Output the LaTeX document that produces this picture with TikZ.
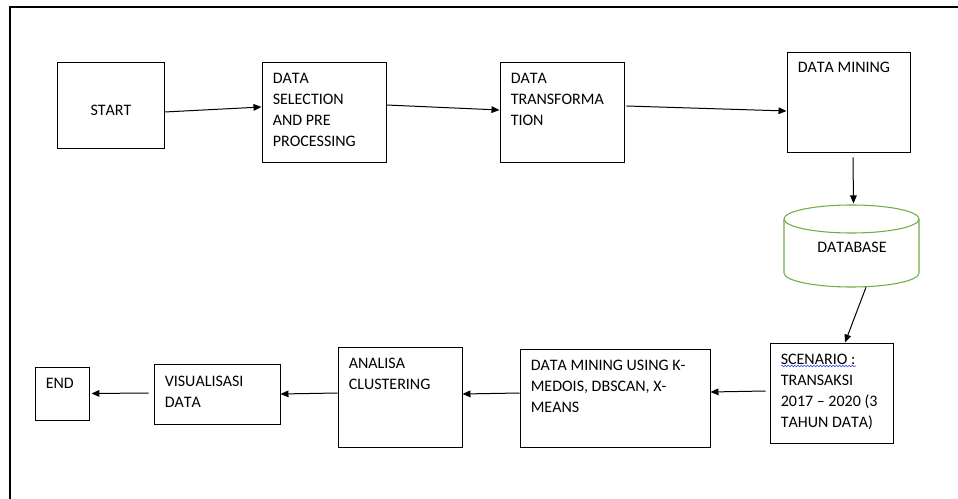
\documentclass[tikz,border=0pt]{standalone}
\usepackage{fontspec}
\setmainfont{Carlito}[Kerning=Off]
\usetikzlibrary{arrows.meta,decorations.pathmorphing}
\definecolor{dbgreen}{RGB}{112,173,71}
\definecolor{spellblue}{RGB}{40,60,230}
\begin{document}
\begin{tikzpicture}[x=0.75pt,y=-0.75pt,
  box/.style={draw=black,line width=0.7pt,inner sep=0pt},
  txt/.style={anchor=north west,inner sep=0pt,align=left,font=\fontsize{12pt}{15.75pt}\selectfont},
  txtc/.style={anchor=center,inner sep=0pt,font=\fontsize{12pt}{15.75pt}\selectfont},
  arr/.style={line width=0.75pt,-{Triangle[length=6pt,width=5pt]}},
  dbline/.style={draw=dbgreen,line width=0.8pt}]
\useasboundingbox (0,0) rectangle (958,499);
% frame
\draw[line width=1.5pt] (10,500) -- (10,7) -- (959,7);
% boxes
\node[box,minimum width=80.25pt,minimum height=64.5pt] (start) at (110.5,105) {};
\node[box,minimum width=93pt,minimum height=75pt] (sel) at (324,112) {};
\node[box,minimum width=93pt,minimum height=75pt] (trans) at (562,112) {};
\node[box,minimum width=92.25pt,minimum height=75pt] (mine) at (848.5,102) {};
\node[box,minimum width=92.25pt,minimum height=75pt] (scen) at (831.5,393) {};
\node[box,minimum width=142.5pt,minimum height=73.5pt] (dmu) at (615,398) {};
\node[box,minimum width=93pt,minimum height=75pt] (ac) at (400,397) {};
\node[box,minimum width=94.5pt,minimum height=45pt] (vd) at (217,394) {};
\node[box,minimum width=40.5pt,minimum height=39.75pt] (end) at (62,393.5) {};
% database cylinder
\draw[dbline] (784,219) -- (784,273) arc[start angle=180,end angle=360,x radius=50.625pt,y radius=10.5pt] -- (919,219);
\draw[dbline] (851.5,219) ellipse[x radius=50.625pt,y radius=10.5pt];
\node[inner sep=0pt,minimum width=101.25pt,minimum height=61.5pt] (db) at (851.5,246) {};
% texts
\node[txtc] (startt) at (111,110) {START};
\node[txt] (selt) at ([xshift=8.25pt,yshift=-8.25pt]sel.north west) {DATA\\SELECTION\\AND PRE\\PROCESSING};
\node[txt] (transt) at ([xshift=8.25pt,yshift=-8.25pt]trans.north west) {DATA\\TRANSFORMA\\TION};
\node[txt] (minet) at ([xshift=8.25pt,yshift=-7.5pt]mine.north west) {DATA MINING};
\node[txtc] (dbt) at (852,247.5) {DATABASE};
\node[txt] (scent) at ([xshift=8.25pt,yshift=-8.25pt]scen.north west) {SCENARIO :\\TRANSAKSI\\2017 – 2020 (3\\TAHUN DATA)};
\node[txt] (dmut) at ([xshift=8.25pt,yshift=-8.25pt]dmu.north west) {DATA MINING USING K-\\MEDOIS, DBSCAN, X-\\MEANS};
\node[txt] (act) at ([xshift=8.25pt,yshift=-8.25pt]ac.north west) {ANALISA\\CLUSTERING};
\node[txt] (vdt) at ([xshift=8.25pt,yshift=-9pt]vd.north west) {VISUALISASI\\DATA};
\node[txt] (endt) at ([xshift=8.25pt,yshift=-8.25pt]end.north west) {END};
% spell-check squiggle
\draw[spellblue,line width=0.4pt,decorate,decoration={snake,amplitude=0.6pt,segment length=2.4pt}] (781,366) -- (856,366);
% connectors
\draw[arr] ([yshift=-5.25pt]start.east) -- ([yshift=3.75pt]sel.west);
\draw[arr] ([yshift=5.25pt]sel.east) -- ([yshift=1.5pt]trans.west);
\draw[arr] ([xshift=1.5pt,yshift=4.5pt]trans.east) -- ([yshift=-6.75pt]mine.west);
\draw[arr] ([xshift=3.375pt,yshift=-3.75pt]mine.south) -- ([xshift=1.5pt,yshift=1pt]db.north);
\draw[arr] ([xshift=10.875pt]db.south) -- ([xshift=10.125pt]scen.north);
\draw[arr] ([xshift=-3pt,yshift=1.5pt]scen.west) -- ([yshift=4.5pt]dmu.east);
\draw[arr] ([yshift=3.75pt]dmu.west) -- ([yshift=2.25pt]ac.east);
\draw[arr] ([yshift=3pt]ac.west) -- (vd.east);
\draw[arr] ([xshift=-3.75pt,yshift=0.75pt]vd.west) -- ([xshift=1.5pt]end.east);
\end{tikzpicture}
\end{document}
